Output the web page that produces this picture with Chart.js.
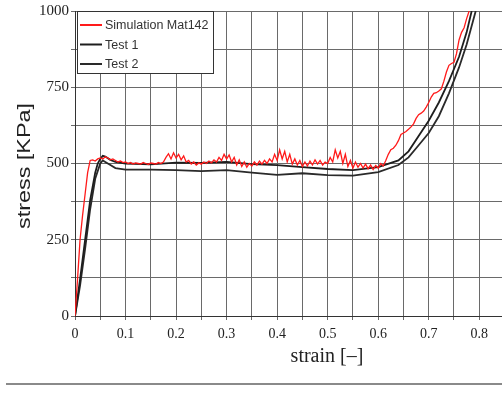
<!DOCTYPE html>
<html>
<head>
<meta charset="utf-8">
<script src="https://cdn.jsdelivr.net/npm/chart.js@4"></script>
<style>
  html, body { margin: 0; padding: 0; background: #fff; }
  #chart { display: block; }
</style>
</head>
<body>
<canvas id="chart" width="502" height="398"></canvas>
<script>
'use strict';

// --- data (strain [-], stress [KPa]) ---
var simStrain = [0, 0.005, 0.01, 0.015, 0.02, 0.025, 0.03, 0.035, 0.04, 0.045, 0.05, 0.055, 0.06, 0.065, 0.07, 0.075, 0.08, 0.085, 0.09, 0.095,
  0.1, 0.105, 0.11, 0.115, 0.12, 0.125, 0.13, 0.135, 0.14, 0.145, 0.15, 0.155, 0.16, 0.165, 0.17, 0.175, 0.18, 0.185, 0.19, 0.195,
  0.2, 0.205, 0.21, 0.215, 0.22, 0.225, 0.23, 0.235, 0.24, 0.245, 0.25, 0.255, 0.26, 0.265, 0.27, 0.275, 0.28, 0.285, 0.29, 0.295,
  0.3, 0.305, 0.31, 0.315, 0.32, 0.325, 0.33, 0.335, 0.34, 0.345, 0.35, 0.355, 0.36, 0.365, 0.37, 0.375, 0.38, 0.385, 0.39, 0.395,
  0.4, 0.405, 0.41, 0.415, 0.42, 0.425, 0.43, 0.435, 0.44, 0.445, 0.45, 0.455, 0.46, 0.465, 0.47, 0.475, 0.48, 0.485, 0.49, 0.495,
  0.5, 0.505, 0.51, 0.515, 0.52, 0.525, 0.53, 0.535, 0.54, 0.545, 0.55, 0.555, 0.56, 0.565, 0.57, 0.575, 0.58, 0.585, 0.59, 0.595,
  0.6, 0.605, 0.61, 0.615, 0.62, 0.625, 0.63, 0.635, 0.64, 0.645, 0.65, 0.655, 0.66, 0.665, 0.67, 0.675, 0.68, 0.685, 0.69, 0.695,
  0.7, 0.705, 0.71, 0.715, 0.72, 0.725, 0.73, 0.735, 0.74, 0.745, 0.75, 0.755, 0.76, 0.765, 0.77, 0.775, 0.78];
var simStress = [0, 120, 250, 330, 400, 470, 510, 512, 508, 515, 518, 515, 522, 518, 512, 515, 510, 505, 508, 503,
  505, 500, 503, 498, 502, 500, 498, 503, 500, 497, 502, 500, 498, 503, 500, 505, 520, 532, 515, 535,
  518, 530, 512, 525, 505, 510, 498, 505, 495, 502, 498, 505, 500, 508, 502, 512, 505, 520, 510, 530,
  515, 528, 505, 520, 495, 512, 490, 505, 488, 500, 492, 505, 495, 508, 498, 510, 500, 515, 505, 530,
  510, 545, 515, 540, 505, 530, 498, 515, 495, 510, 490, 505, 492, 508, 495, 512, 498, 510, 495, 505,
  500, 520, 505, 545, 518, 540, 500, 530, 490, 510, 485, 505, 488, 500, 485, 498, 483, 495, 480, 493,
  485, 500, 492, 510, 530, 545, 550, 560, 575, 595, 600, 605, 612, 620, 630, 648, 660, 665, 672, 685,
  700, 718, 730, 732, 738, 745, 770, 800, 822, 828, 832, 860, 905, 930, 945, 975, 1000];

var test1Strain = [0, 0.01, 0.02, 0.03, 0.04, 0.045, 0.05, 0.055, 0.06, 0.07, 0.08, 0.1, 0.15, 0.2, 0.25, 0.3, 0.35, 0.4, 0.45, 0.5, 0.55, 0.6, 0.64, 0.66, 0.68, 0.7, 0.72, 0.74, 0.76, 0.775, 0.785];
var test1Stress = [0, 120, 250, 380, 470, 500, 515, 525, 523, 512, 505, 500, 497, 503, 502, 505, 498, 495, 488, 482, 478, 488, 510, 540, 590, 640, 700, 770, 850, 930, 1000];

var test2Strain = [0, 0.01, 0.02, 0.03, 0.04, 0.05, 0.055, 0.06, 0.07, 0.08, 0.1, 0.15, 0.2, 0.25, 0.3, 0.35, 0.4, 0.45, 0.5, 0.55, 0.6, 0.64, 0.66, 0.68, 0.7, 0.72, 0.74, 0.76, 0.775, 0.793];
var test2Stress = [0, 100, 220, 350, 450, 500, 510, 505, 495, 485, 480, 480, 478, 475, 478, 470, 463, 468, 462, 460, 472, 495, 520, 560, 600, 655, 730, 815, 890, 1000];

var seriesLabels = ['Simulation Mat142', 'Test 1', 'Test 2'];
var xTickLabels = [0, 0.1, 0.2, 0.3, 0.4, 0.5, 0.6, 0.7, 0.8];
var yTickLabels = [0, 250, 500, 750, 1000];

function pairs(xs, ys) {
  return xs.map(function (x, i) { return { x: x, y: ys[i] }; });
}

function near(v, list) {
  return list.some(function (t) { return Math.abs(t - v) < 1e-6; });
}

var GRID = '#6a6a6a';
var TEXT = '#222';

// titles, bottom rule and the boxed legend inside the plot
var decor = {
  id: 'decor',
  afterDraw: function (chart) {
    var ctx = chart.ctx;
    var area = chart.chartArea;
    ctx.save();

    // y title (the original lettering is drawn tall and narrow)
    ctx.fillStyle = TEXT;
    ctx.font = '18px "Liberation Sans", Arial, sans-serif';
    ctx.textAlign = 'center';
    ctx.textBaseline = 'middle';
    ctx.translate(25, 166);
    ctx.rotate(-Math.PI / 2);
    ctx.scale(1.3, 1);
    ctx.fillText('stress [KPa]', 0, 0);
    ctx.setTransform(1, 0, 0, 1, 0, 0);

    // x title
    ctx.font = '20px "Liberation Serif", "Times New Roman", serif';
    ctx.fillText('strain [\u2013]', 327, 357);

    // rule under the figure
    ctx.strokeStyle = '#8a8a8a';
    ctx.lineWidth = 2;
    ctx.beginPath();
    ctx.moveTo(6, 384);
    ctx.lineTo(502, 384);
    ctx.stroke();

    // legend box
    var bx = area.left + 2, by = area.top, bw = 136, bh = 62;
    ctx.fillStyle = '#fff';
    ctx.fillRect(bx, by, bw, bh);
    ctx.strokeStyle = '#333';
    ctx.lineWidth = 1;
    ctx.strokeRect(bx + 0.5, by + 0.5, bw, bh);
    ctx.font = '12.5px "Liberation Sans", Arial, sans-serif';
    ctx.textAlign = 'left';
    chart.data.datasets.forEach(function (ds, i) {
      var y = by + 14 + i * 19.5;
      ctx.strokeStyle = ds.borderColor;
      ctx.lineWidth = 2;
      ctx.beginPath();
      ctx.moveTo(bx + 3, y);
      ctx.lineTo(bx + 25, y);
      ctx.stroke();
      ctx.fillStyle = '#333';
      ctx.fillText(ds.label, bx + 28, y + 1);
    });
    ctx.restore();
  }
};

new Chart(document.getElementById('chart'), {
  type: 'line',
  data: {
    datasets: [
      { label: seriesLabels[0], data: pairs(simStrain, simStress), borderColor: '#ff1a1a', borderWidth: 1.3 },
      { label: seriesLabels[1], data: pairs(test1Strain, test1Stress), borderColor: '#1e1e1e', borderWidth: 1.8 },
      { label: seriesLabels[2], data: pairs(test2Strain, test2Stress), borderColor: '#2a2a2a', borderWidth: 1.8 }
    ]
  },
  options: {
    responsive: false,
    animation: false,
    layout: { padding: { top: 10, right: 0, left: 0, bottom: 0 } },
    elements: { point: { radius: 0 }, line: { tension: 0 } },
    plugins: { legend: { display: false }, tooltip: { enabled: false } },
    scales: {
      x: {
        type: 'linear',
        min: 0,
        max: 0.845,
        afterBuildTicks: function (scale) {
          scale.ticks = scale.ticks.filter(function (t) {
            return Math.abs(t.value / 0.05 - Math.round(t.value / 0.05)) < 1e-6;
          });
        },
        afterFit: function (scale) { scale.height = 82; },
        grid: { color: GRID, lineWidth: 1, tickLength: 4 },
        border: { color: '#333', width: 1 },
        ticks: {
          stepSize: 0.05,
          includeBounds: false,
          autoSkip: false,
          maxRotation: 0,
          padding: 6,
          color: TEXT,
          font: { family: '"Liberation Serif", "Times New Roman", serif', size: 14 },
          callback: function (v) { return near(v, xTickLabels) ? String(Math.round(v * 10) / 10) : ''; }
        }
      },
      y: {
        min: 0,
        max: 1000,
        afterFit: function (scale) { scale.width = 75; },
        grid: { color: GRID, lineWidth: 1, tickLength: 4 },
        border: { color: '#333', width: 1 },
        ticks: {
          stepSize: 125,
          autoSkip: false,
          padding: 2,
          color: TEXT,
          font: { family: '"Liberation Serif", "Times New Roman", serif', size: 15 },
          callback: function (v) { return near(v, yTickLabels) ? String(v) : ''; }
        }
      }
    }
  },
  plugins: [decor]
});
</script>
</body>
</html>
